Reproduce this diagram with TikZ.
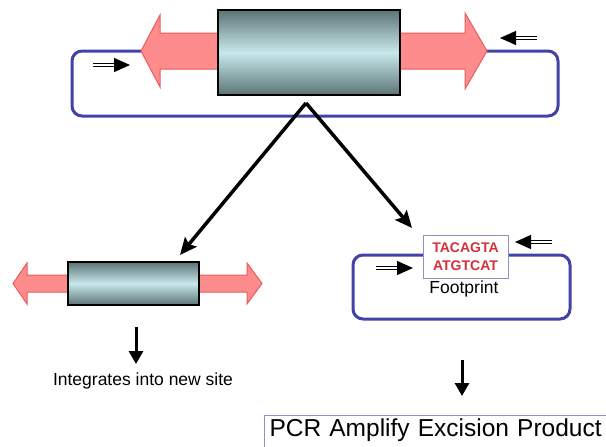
\documentclass[tikz,border=0pt]{standalone}
\usepackage{fontspec}
\setmainfont{Liberation Sans}
\usetikzlibrary{arrows.meta,shapes}

\definecolor{loopblue}{RGB}{66,66,168}
\definecolor{arrowpink}{RGB}{255,140,140}
\definecolor{arrowred}{RGB}{232,92,92}
\definecolor{cyldark}{RGB}{92,116,118}
\definecolor{cyllight}{RGB}{200,232,236}
\definecolor{seqred}{RGB}{214,48,60}
\definecolor{boxblue}{RGB}{140,145,200}

\begin{document}
\begin{tikzpicture}[x=1pt,y=-1pt]
    \tikzstyle{dnaloop} = [draw=loopblue, line width=3pt, rounded corners=10pt]
    \tikzstyle{endarrow} = [draw=arrowred, fill=arrowpink, line width=1pt]
    \tikzstyle{transposon} = [draw=black, line width=1.2pt, top color=cyldark, bottom color=cyldark, middle color=cyllight, inner sep=0pt]
    \tikzstyle{primer} = [double, double distance=1.3pt, line width=1.2pt, -{Triangle[length=16pt,width=14pt]}]
    \tikzstyle{bigarrow} = [line width=3.5pt, -{Stealth[length=17pt,width=15pt,inset=3pt]}]
    \tikzstyle{downarrow} = [line width=3pt, -{Triangle[length=13pt,width=14pt]}]
    \tikzstyle{label} = [font=\fontsize{17.5}{20}\selectfont, anchor=base]
    \useasboundingbox (0,0) rectangle (606,447);

    % donor plasmid with transposon
    \draw[dnaloop] (72,51) rectangle (558,116);
    \draw[endarrow] (218,33) -- (160,33) -- (160,15) -- (141,51) -- (160,87) -- (160,69) -- (218,69) -- cycle;
    \draw[endarrow] (400,33) -- (465,33) -- (465,13) -- (487,51) -- (465,89) -- (465,69) -- (400,69) -- cycle;
    \node[transposon, minimum width=182pt, minimum height=85pt] (donor) at (309,52.5) {};
    \draw[primer] (93,65) -- (130,65);
    \draw[primer] (537,38) -- (500,38);

    % the two products
    \coordinate (split) at (306,103);
    \coordinate (tojump) at (180,255);
    \coordinate (toscar) at (412,228);
    \draw[bigarrow] (split) -- (tojump);
    \draw[bigarrow] (split) -- (toscar);

    % excised transposon
    \draw[endarrow] (68,275) -- (27,275) -- (27,263) -- (13,283.5) -- (27,304) -- (27,292) -- (68,292) -- cycle;
    \draw[endarrow] (199,275) -- (247,275) -- (247,263) -- (262,283.5) -- (247,304) -- (247,292) -- (199,292) -- cycle;
    \node[transposon, minimum width=131pt, minimum height=43pt] (jump) at (133.5,283.5) {};
    \coordinate (jumpdown) at (136,327);
    \coordinate (jumpend) at (136,364);
    \draw[downarrow] (jumpdown) -- (jumpend);
    \node[label] (integ) at (143,385) {Integrates into new site};

    % empty donor with footprint
    \draw[dnaloop] (353,255) rectangle (570,319);
    \node[draw=boxblue, fill=white, line width=1pt, minimum width=85pt, minimum height=43pt, align=center,
          text=seqred, font=\fontsize{14}{17.4}\selectfont\bfseries] (scar) at (465.5,256.5) {TACAGTA\\ATGTCAT};
    \node[label] (foot) at (464,293) {Footprint};
    \draw[primer] (376,268) -- (413,268);
    \draw[primer] (552,242) -- (515,242);
    \coordinate (scardown) at (462,360);
    \coordinate (scarend) at (462,396);
    \draw[downarrow] (scardown) -- (scarend);

    % pcr
    \node[draw=boxblue, line width=1pt, anchor=north west, text width=380pt, text depth=14pt, inner xsep=5pt, inner ysep=3pt,
          align=left, font=\fontsize{24.5}{28}\selectfont] (pcr) at (264,415)
          {PCR Amplify Excision Product};
\end{tikzpicture}
\end{document}
